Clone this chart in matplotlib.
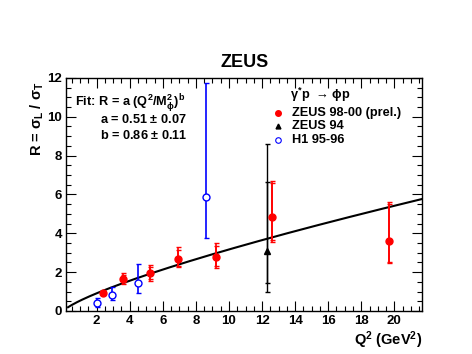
import numpy as np
import matplotlib
matplotlib.use("Agg")
import matplotlib.pyplot as plt
from matplotlib.ticker import MultipleLocator

plt.rcParams['font.family'] = ['Liberation Sans', 'DejaVu Sans']
plt.rcParams['font.weight'] = 'bold'
plt.rcParams['axes.labelweight'] = 'bold'
plt.rcParams['axes.titleweight'] = 'bold'
plt.rcParams['mathtext.fontset'] = 'custom'
plt.rcParams['mathtext.rm'] = 'Liberation Sans:bold'
plt.rcParams['mathtext.it'] = 'Liberation Sans:bold'
plt.rcParams['mathtext.bf'] = 'Liberation Sans:bold'
plt.rcParams['mathtext.sf'] = 'Liberation Sans:bold'

# ZEUS 98-00 (prel.)
zeus_q2 = [2.4, 3.6, 5.2, 6.9, 9.2, 12.6, 19.7]
zeus_r = [0.95, 1.65, 1.95, 2.70, 2.77, 4.83, 3.62]
zeus_tot_up = [0.10, 0.28, 0.43, 0.60, 0.75, 1.87, 2.00]
zeus_tot_dn = [0.10, 0.24, 0.40, 0.46, 0.57, 1.27, 1.13]
zeus_stat_up = [0.07, 0.18, 0.30, 0.42, 0.55, 1.75, 1.90]
zeus_stat_dn = [0.07, 0.16, 0.28, 0.36, 0.45, 1.20, 1.08]

# ZEUS 94
z94_q2 = [12.3]
z94_r = [3.11]
z94_tot_up = [5.48]
z94_tot_dn = [2.15]
z94_stat_up = [3.55]
z94_stat_dn = [1.65]

# H1 95-96
h1_q2 = [2.0, 2.9, 4.5, 8.6]
h1_r = [0.43, 0.82, 1.46, 5.86]
h1_up = [0.26, 0.43, 0.96, 5.90]
h1_dn = [0.21, 0.25, 0.52, 2.11]

# fitted curve as drawn: R = A * (Q2)^B
fit_a = 0.533
fit_b = 0.774
fit_q2_min = 0.27
fit_q2_max = 21.7

x_ticks = [2, 4, 6, 8, 10, 12, 14, 16, 18, 20]
y_ticks = [0, 2, 4, 6, 8, 10, 12]

fig = plt.figure(figsize=(4.72, 3.54), dpi=100)
ax = fig.add_axes([0.140, 0.1215, 0.755, 0.6585])

q2 = np.linspace(fit_q2_min, fit_q2_max, 200)
ax.plot(q2, fit_a * q2 ** fit_b, color='black', lw=1.5, zorder=2)

# ZEUS 98-00
ax.errorbar(zeus_q2, zeus_r, yerr=[zeus_tot_dn, zeus_tot_up], fmt='none',
            ecolor='red', elinewidth=1.2, capsize=1.8, capthick=1.0, zorder=3)
ax.errorbar(zeus_q2, zeus_r, yerr=[zeus_stat_dn, zeus_stat_up], fmt='o',
            color='red', ms=5, elinewidth=1.2, capsize=1.8, capthick=1.0, zorder=4)

# ZEUS 94
ax.errorbar(z94_q2, z94_r, yerr=[z94_tot_dn, z94_tot_up], fmt='none',
            ecolor='black', elinewidth=1.0, capsize=1.8, capthick=1.0, zorder=3)
ax.errorbar(z94_q2, z94_r, yerr=[z94_stat_dn, z94_stat_up], fmt='^',
            color='black', ms=4.5, elinewidth=1.0, capsize=1.8, capthick=1.0, zorder=4)

# H1
ax.errorbar(h1_q2, h1_r, yerr=[h1_dn, h1_up], fmt='o', color='blue', mfc='white',
            mec='blue', mew=1.0, ms=5, elinewidth=1.2, capsize=1.8, capthick=1.0, zorder=4)

ax.set_xlim(0.15, 21.7)
ax.set_ylim(0, 12)
ax.set_xticks(x_ticks, labels=[str(t) for t in x_ticks], fontweight='bold', fontsize=9.5)
ax.set_yticks(y_ticks, labels=[str(t) for t in y_ticks], fontweight='bold', fontsize=9.5)
ax.xaxis.set_minor_locator(MultipleLocator(0.5))
ax.yaxis.set_minor_locator(MultipleLocator(0.5))
ax.tick_params(which='both', direction='in', top=True, right=True, pad=3, width=0.8)
ax.tick_params(which='major', length=7)
ax.tick_params(which='minor', length=3.5)
for sp in ax.spines.values():
    sp.set_linewidth(1.0)

ax.set_ylabel(r'R = $\sigma_{L}$ / $\sigma_{T}$', fontsize=10.5, fontweight='bold', loc='top')
ax.yaxis.set_label_coords(-0.056, 0.985)
ax.set_xlabel(r'Q$^{2}$ (GeV$^{2}$)', fontsize=10.5, fontweight='bold', loc='right')
ax.xaxis.set_label_coords(1.0, -0.08)

ax.set_title('ZEUS', fontsize=13, fontweight='bold', pad=8)

# fit text
ax.text(0.025, 0.893, r'Fit: R = a (Q$^{2}$/M$_{\phi}^{2}$)$^{b}$', transform=ax.transAxes,
        fontsize=9.2, va='center', ha='left')
ax.text(0.095, 0.822, r'a = 0.51 $\pm$ 0.07', transform=ax.transAxes,
        fontsize=9.2, va='center', ha='left')
ax.text(0.095, 0.753, r'b = 0.86 $\pm$ 0.11', transform=ax.transAxes,
        fontsize=9.2, va='center', ha='left')

# legend
ax.text(0.628, 0.927, r'$\gamma^{*}$p $\rightarrow\,\phi$p', transform=ax.transAxes,
        fontsize=9.2, va='center', ha='left')
leg_y = [0.850, 0.792, 0.734]
leg_labels = ['ZEUS 98-00 (prel.)', 'ZEUS 94', 'H1 95-96']
ax.plot([0.595], [leg_y[0]], 'o', color='red', ms=4, transform=ax.transAxes, clip_on=False)
ax.plot([0.595], [leg_y[1]], '^', color='black', ms=3.5, transform=ax.transAxes, clip_on=False)
ax.plot([0.595], [leg_y[2]], 'o', mfc='white', mec='blue', mew=0.8, ms=4,
        transform=ax.transAxes, clip_on=False)
for yy, lab in zip(leg_y, leg_labels):
    ax.text(0.634, yy, lab, transform=ax.transAxes, fontsize=9.2, va='center', ha='left')

fig.savefig('out.png', dpi=100)
